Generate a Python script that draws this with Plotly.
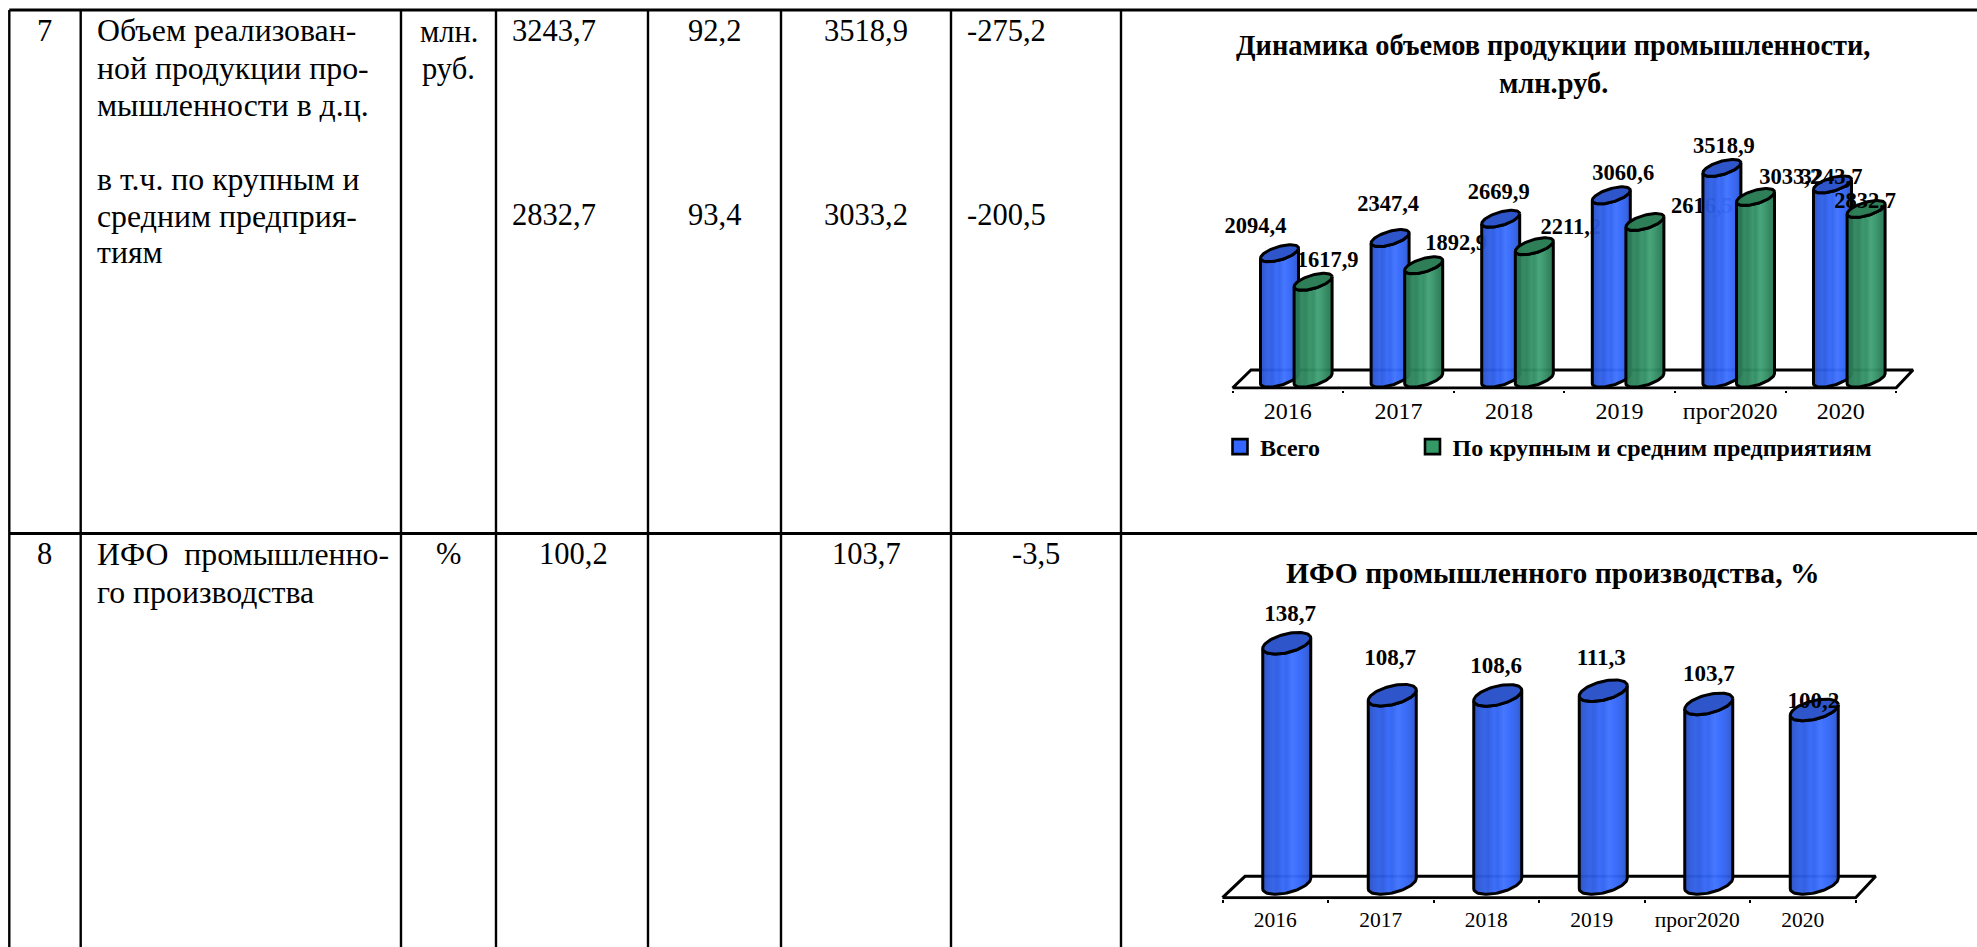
import numpy as np
import plotly.graph_objects as go

W, H = 1977, 947
SERIF = "Liberation Serif"

# ---------- data ----------
categories = ["2016", "2017", "2018", "2019", "прог2020", "2020"]
total_output = [2094.4, 2347.4, 2669.9, 3060.6, 3518.9, 3243.7]
large_medium = [1617.9, 1892.9, 2211.2, 2616.5, 3033.2, 2832.7]
ifo_index = [138.7, 108.7, 108.6, 111.3, 103.7, 100.2]

title_output = ["Динамика объемов продукции промышленности,", "млн.руб."]
title_ifo = "ИФО промышленного производства, %"
legend_names = ["Всего", "По крупным и средним предприятиям"]

row_numbers = ["7", "8"]
row7_name_lines = ["Объем реализован-", "ной продукции про-", "мышленности в д.ц.",
                   "в т.ч. по крупным и", "средним предприя-", "тиям"]
row8_name_lines = ["ИФО  промышленно-", "го производства"]
row7_units = ["млн.", "руб."]
row8_units = ["%"]
row7_a = ["3243,7", "92,2", "3518,9", "-275,2"]
row7_b = ["2832,7", "93,4", "3033,2", "-200,5"]
row8_a = ["100,2", "103,7", "-3,5"]

# ---------- label offsets from bar top, pixels ----------
total_label_off = [(-24, -25.5), (-2, -32.5), (-2, -25.5), (12, -20.5), (2, -20.5), (-1, -6.5)]
large_label_off = [(14.5, -20.5), (32.4, -21), (36.4, -17.5), (57, -14.5), (34.7, -18.5), (-1, -6.5)]
ifo_label_off = [(3.4, -28.5), (-2.2, -35.5), (-1.7, -28.5), (-2, -31.5), (0, -28.5), (-1, -7.5)]

A = ".96"
BLUE_SCALE = [(0, f"rgba(40,78,190,{A})"), (.1, f"rgba(44,88,216,{A})"), (.22, f"rgba(47,96,232,{A})"),
              (.3, f"rgba(44,90,224,{A})"), (.42, f"rgba(52,104,250,{A})"), (.5, f"rgba(48,98,240,{A})"),
              (.62, f"rgba(62,114,255,{A})"), (.72, f"rgba(54,106,255,{A})"), (.88, f"rgba(48,96,232,{A})"),
              (1, f"rgba(42,82,200,{A})")]
GREEN_SCALE = [(0, f"rgba(38,112,78,{A})"), (.1, f"rgba(42,124,86,{A})"), (.22, f"rgba(46,134,94,{A})"),
               (.3, f"rgba(43,128,88,{A})"), (.42, f"rgba(52,148,104,{A})"), (.5, f"rgba(48,140,98,{A})"),
               (.62, f"rgba(66,162,118,{A})"), (.72, f"rgba(58,152,110,{A})"), (.88, f"rgba(44,130,90,{A})"),
               (1, f"rgba(38,116,80,{A})")]
BLUE_TOP = "rgba(42,82,200,.98)"
GREEN_TOP = "rgba(42,124,84,.98)"
LW = 3


def fmt(v):
    return f"{v:.1f}".replace(".", ",")


class Panel:
    def __init__(self, xa, ya, x0, x1, step, zero, k, top, bottom, a, s, h, dom_l, dom_r):
        self.xa, self.ya = xa, ya
        self.x0, self.x1, self.step, self.zero, self.k = x0, x1, step, zero, k
        self.top, self.bottom = top, bottom
        self.a, self.s, self.h = a, s, h
        self.dom_l, self.dom_r = dom_l, dom_r

    def dx(self, px):
        return px / self.step

    def dy(self, px):
        return px / self.k

    def idx_of(self, px):
        return (px - self.x0) / self.step - 0.5

    def val_of(self, py):
        return (self.zero - py) / self.k


fig = go.Figure()


def floor(p, back_left, back_right, back_y, front_y):
    xs = [p.idx_of(p.x0), p.idx_of(back_left), p.idx_of(back_right), p.idx_of(p.x1), p.idx_of(p.x0)]
    ys = [p.val_of(front_y), p.val_of(back_y), p.val_of(back_y), p.val_of(front_y), p.val_of(front_y)]
    fig.add_trace(go.Scatter(x=xs, y=ys, mode="lines", line=dict(color="black", width=LW), cliponaxis=False,
                             xaxis=p.xa, yaxis=p.ya, showlegend=False, hoverinfo="skip"))


def cylinder(p, xc, v, scale, top_color):
    t_low = np.linspace(np.pi, 0, 41)
    x_top = xc + p.dx(p.a) * np.cos(t_low)
    y_top = v - p.dy(-p.s * np.cos(t_low) + p.h * np.sin(t_low))
    y_bot = 0 - p.dy(-p.s * np.cos(t_low) + p.h * np.sin(t_low))
    xs = np.r_[x_top, x_top[::-1], x_top[0]]
    ys = np.r_[y_top, y_bot[::-1], y_top[0]]
    fig.add_trace(go.Scatter(x=xs, y=ys, mode="lines", fill="toself",
                             fillgradient=dict(type="horizontal", colorscale=scale),
                             line=dict(color="black", width=LW), cliponaxis=False,
                             xaxis=p.xa, yaxis=p.ya, showlegend=False, hoverinfo="skip"))
    t = np.linspace(0, 2 * np.pi, 81)
    fig.add_trace(go.Scatter(x=xc + p.dx(p.a) * np.cos(t),
                             y=v - p.dy(-p.s * np.cos(t) + p.h * np.sin(t)),
                             mode="lines", fill="toself", fillcolor=top_color,
                             line=dict(color="black", width=LW), cliponaxis=False,
                             xaxis=p.xa, yaxis=p.ya, showlegend=False, hoverinfo="skip"))


def bar_label(p, xc, v, off, size):
    fig.add_trace(go.Scatter(x=[xc + p.dx(off[0])], y=[v - p.dy(off[1])], mode="text", text=[fmt(v)],
                             textposition="middle center",
                             textfont=dict(family=SERIF, size=size, color="black", weight="bold"),
                             cliponaxis=False, xaxis=p.xa, yaxis=p.ya, showlegend=False, hoverinfo="skip"))


# ---------- chart 1 ----------
p1 = Panel("x", "y", 1232.5, 1896, 110.6, 378.7, 0.0599, 130, 389.5, 19, 5, 6.9, 1225, 1925)
floor(p1, 1251, 1913, 370, 388)
for i in range(len(categories)):
    cylinder(p1, i + p1.dx(-8.3), total_output[i], BLUE_SCALE, BLUE_TOP)
    cylinder(p1, i + p1.dx(25.3), large_medium[i], GREEN_SCALE, GREEN_TOP)
    bar_label(p1, i + p1.dx(-8.3), total_output[i], total_label_off[i], 22.5)
    bar_label(p1, i + p1.dx(25.3), large_medium[i], large_label_off[i], 22.5)

# ---------- chart 2 ----------
p2 = Panel("x2", "y2", 1222.5, 1855.6, 105.5, 883.5, 1.732, 600, 899.2, 24, 5.2, 9.5, 1215, 1885)
floor(p2, 1245, 1875.7, 876.3, 897.7)
for i in range(len(categories)):
    cylinder(p2, i + p2.dx(11.5), ifo_index[i], BLUE_SCALE, BLUE_TOP)
    bar_label(p2, i + p2.dx(11.5), ifo_index[i], ifo_label_off[i], 23)

# ---------- legends ----------
for name, col, lg in zip(legend_names, ["#3366FF", "#339966"], ["legend", "legend2"]):
    fig.add_trace(go.Scatter(x=[None], y=[None], mode="markers", name=name, xaxis="x", yaxis="y", legend=lg,
                             marker=dict(symbol="square", size=15, color=col, line=dict(color="black", width=2.6))))


def axis_pair(p, tick_size, standoff):
    tick_pos = list(range(len(categories)))
    edges = [i - 0.5 for i in range(len(categories) + 1)]
    xa = dict(domain=[p.dom_l / W, p.dom_r / W], range=[p.idx_of(p.dom_l), p.idx_of(p.dom_r)], tickmode="array",
              tickvals=tick_pos, ticktext=categories, ticks="", showgrid=False, zeroline=False, showline=False,
              tickfont=dict(family=SERIF, size=tick_size, color="black"), ticklabelstandoff=standoff,
              minor=dict(tickmode="array", tickvals=edges, ticks="outside", ticklen=2.5, tickwidth=2.4,
                         tickcolor="black", showgrid=False),
              fixedrange=True)
    ya = dict(domain=[1 - p.bottom / H, 1 - p.top / H], range=[p.val_of(p.bottom), p.val_of(p.top)],
              visible=False, fixedrange=True)
    return xa, ya


xa1, ya1 = axis_pair(p1, 24, 4)
xa2, ya2 = axis_pair(p2, 21.5, 5)
ya1["anchor"] = "x"
xa1["anchor"] = "y"
xa2["anchor"] = "y2"
ya2["anchor"] = "x2"

# ---------- table ----------
shapes = []
def hline(y, x0=9.3, x1=W, w=3):
    shapes.append(dict(type="line", xref="paper", yref="paper", x0=x0 / W, x1=x1 / W, y0=1 - y / H, y1=1 - y / H,
                       line=dict(color="black", width=w)))
def vline(x, y0=10, y1=H, w=2.4):
    shapes.append(dict(type="line", xref="paper", yref="paper", x0=x / W, x1=x / W, y0=1 - y0 / H, y1=1 - y1 / H,
                       line=dict(color="black", width=w)))
hline(10)
hline(533.5)
for x in [9.3, 80.7, 401, 496, 648, 781, 951, 1121]:
    vline(x)

ann = []
def put(text, x, y, size=30.5, anchor="center", bold=False):
    ann.append(dict(text=text, xref="paper", yref="paper", x=x / W, y=1 - y / H, xanchor=anchor, yanchor="middle",
                    showarrow=False, borderpad=0,
                    font=dict(family=SERIF, size=size, color="black", weight="bold" if bold else "normal")))

put(row_numbers[0], 44, 31)
put(row_numbers[1], 44, 554)
for line, y in zip(row7_name_lines, [31, 68.5, 105.5, 179.5, 216, 253]):
    put(line, 95.5, y, 31.8, anchor="left")
for line, y in zip(row8_name_lines, [554, 592.5]):
    put(line, 95.5, y, 31.8, anchor="left")
for line, y in zip(row7_units, [32, 68.5]):
    put(line, 448.6, y)
put(row8_units[0], 448.6, 554)
for row, y in ((row7_a, 31), (row7_b, 215)):
    for txt, x in zip(row, [554, 714, 866, 1007]):
        put(txt, x, y)
for txt, x in zip(row8_a, [573, 866, 1036]):
    put(txt, x, 554)

put(title_output[0], 1553, 45, 28.4, bold=True)
put(title_output[1], 1553, 83, 28.4, bold=True)
put(title_ifo, 1552.5, 572.7, 29.6, bold=True)

legend_common = dict(orientation="h", yanchor="middle", xanchor="left", itemwidth=30, bgcolor="rgba(0,0,0,0)",
                     font=dict(family=SERIF, size=24, color="black", weight="bold"), itemclick=False,
                     itemdoubleclick=False)

fig.update_layout(
    width=W, height=H, margin=dict(l=0, r=0, t=0, b=0), paper_bgcolor="white", plot_bgcolor="rgba(0,0,0,0)",
    xaxis=xa1, yaxis=ya1, xaxis2=xa2, yaxis2=ya2, shapes=shapes, annotations=ann,
    showlegend=True,
    legend=dict(x=1220 / W, y=1 - 447 / H, **legend_common),
    legend2=dict(x=1412.5 / W, y=1 - 447 / H, **legend_common),
    hovermode=False,
)

fig.write_html("out.html", config={"displayModeBar": False},
               post_script="document.body.style.margin='0';document.documentElement.style.overflow='hidden';")
